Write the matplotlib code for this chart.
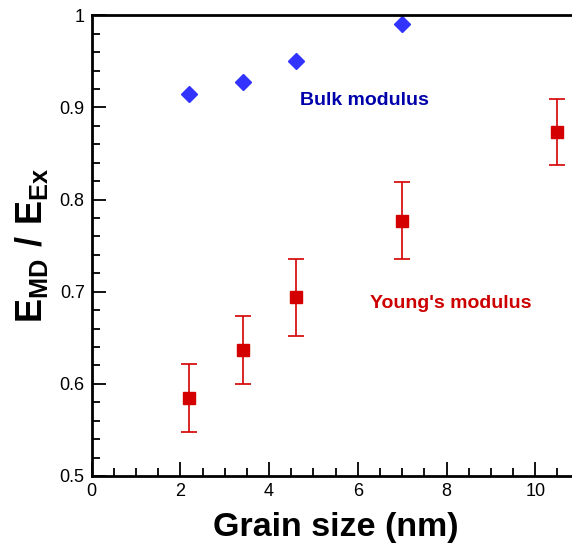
import numpy as np
import matplotlib
matplotlib.use('Agg')
import matplotlib.pyplot as plt
from matplotlib.ticker import MultipleLocator

plt.rcParams['font.family'] = ['Liberation Sans', 'DejaVu Sans']
plt.rcParams['mathtext.fontset'] = 'custom'
plt.rcParams['mathtext.rm'] = 'Liberation Sans'
plt.rcParams['mathtext.bf'] = 'Liberation Sans:bold'

# data
bulk_x = [2.2, 3.4, 4.6, 7.0]
bulk_y = [0.915, 0.928, 0.950, 0.990]

young_x = [2.2, 3.4, 4.6, 7.0, 10.5]
young_y = [0.585, 0.637, 0.694, 0.777, 0.873]
young_err = [0.037, 0.037, 0.042, 0.042, 0.036]

fig = plt.figure(figsize=(5.72, 5.44), dpi=100)
# right edge of axes goes past the canvas like in the original
ax = fig.add_axes([0.1603, 0.125, 0.853, 0.847])

ax.errorbar(young_x, young_y, yerr=young_err, fmt='s', color='#d40000',
            ecolor='#d40000', markersize=9, capsize=6, elinewidth=1.2,
            capthick=1.2)
ax.plot(bulk_x, bulk_y, 'D', color='#3333ff', markersize=8, linestyle='none')

ax.text(4.7, 0.908, 'Bulk modulus', color='#0000aa', fontsize=14,
        fontweight='bold', va='center')
ax.text(6.27, 0.6875, "Young's modulus", color='#cc0000', fontsize=14,
        fontweight='bold', va='center')

ax.set_xlim(0, 11)
ax.set_ylim(0.5, 1.0)
ax.xaxis.set_major_locator(MultipleLocator(2))
ax.xaxis.set_minor_locator(MultipleLocator(0.5))
ax.yaxis.set_minor_locator(MultipleLocator(0.02))
ax.set_yticks([0.5, 0.6, 0.7, 0.8, 0.9, 1.0])
ax.set_yticklabels(['0.5', '0.6', '0.7', '0.8', '0.9', '1'])

ax.tick_params(which='both', direction='in', top=False, right=False,
               labelsize=13, width=1.3)
ax.tick_params(which='major', length=10, pad=5)
ax.tick_params(which='minor', length=6)

for s in ['left', 'bottom', 'top']:
    ax.spines[s].set_linewidth(2)
ax.spines['right'].set_visible(False)

ax.set_xlabel('Grain size (nm)', fontsize=24.5, fontweight='bold', labelpad=9)
ax.set_ylabel(r'$\mathbf{E_{MD}\ /\ E_{Ex}}$', fontsize=26, labelpad=7)

plt.savefig('out.png', dpi=100)
plt.close()
